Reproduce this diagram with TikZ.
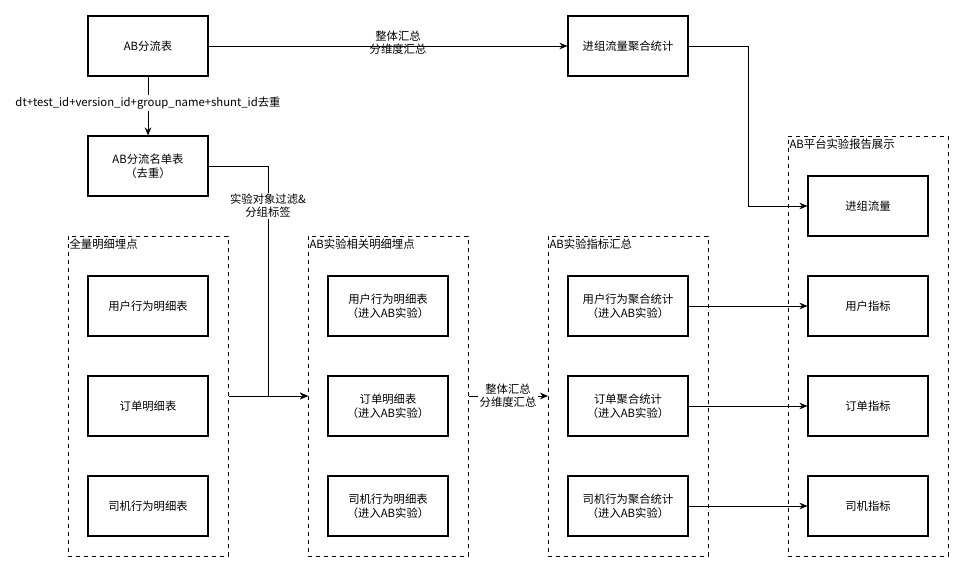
\documentclass[tikz,border=0pt]{standalone}
\usepackage{fontspec}
\setmainfont{Noto Sans CJK SC}
\usetikzlibrary{arrows.meta}
\begin{document}
\begin{tikzpicture}[x=0.75pt,y=-0.75pt,
  box/.style={draw,line width=0.8pt,minimum width=90pt,minimum height=45pt,align=center,font=\fontsize{8.5pt}{10.5pt}\selectfont},
  grp/.style={draw,dashed,line width=0.6pt,minimum width=120pt,anchor=north west},
  gl/.style={anchor=north west,inner sep=1pt,font=\fontsize{8.5pt}{10pt}\selectfont},
  lab/.style={align=center,fill=white,inner sep=1pt,font=\fontsize{8.5pt}{10pt}\selectfont},
  arr/.style={-{Stealth[length=6pt,width=5pt]},line width=0.7pt}]
\useasboundingbox (0,0) rectangle (965,573);
% groups
\node[grp,minimum height=240pt] (g1) at (68,236) {};
\node[gl] at (68,237) {全量明细埋点};
\node[grp,minimum height=240pt] (g2) at (308,236) {};
\node[gl] at (308,237) {AB实验相关明细埋点};
\node[grp,minimum height=240pt] (g3) at (548,236) {};
\node[gl] at (548,237) {AB实验指标汇总};
\node[grp,minimum height=315pt] (g4) at (788,136) {};
\node[gl] at (788,137) {AB平台实验报告展示};
% boxes
\node[box] (ab) at (148,46) {AB分流表};
\node[box] (jz) at (628,46) {进组流量聚合统计};
\node[box] (md) at (148,166) {AB分流名单表\\（去重）};
\node[box] (a1) at (148,306) {用户行为明细表};
\node[box] (a2) at (148,406) {订单明细表};
\node[box] (a3) at (148,506) {司机行为明细表};
\node[box] (b1) at (388,306) {用户行为明细表\\（进入AB实验）};
\node[box] (b2) at (388,406) {订单明细表\\（进入AB实验）};
\node[box] (b3) at (388,506) {司机行为明细表\\（进入AB实验）};
\node[box] (c1) at (628,306) {用户行为聚合统计\\（进入AB实验）};
\node[box] (c2) at (628,406) {订单聚合统计\\（进入AB实验）};
\node[box] (c3) at (628,506) {司机行为聚合统计\\（进入AB实验）};
\node[box] (d0) at (868,206) {进组流量};
\node[box] (d1) at (868,306) {用户指标};
\node[box] (d2) at (868,406) {订单指标};
\node[box] (d3) at (868,506) {司机指标};
% connectors
\draw[arr] (ab) -- (jz);
\node[lab,fill=none] at (398,43) {整体汇总\\分维度汇总};
\draw[arr] (ab) -- (md);
\node[lab] at (148,103) {dt+test\_id+version\_id+group\_name+shunt\_id去重};
\coordinate (k1) at (268,166);
\coordinate (k2) at (268,396);
\draw[arr] (md.east) -- (k1) -- (k2) -- (g2.west |- k2);
\node[lab] at (268,206) {实验对象过滤\&\\分组标签};
\draw[arr] (g1.east |- k2) -- (g2.west |- k2);
\draw[arr] (g2.east |- k2) -- (g3.west |- k2);
\node[lab] at (508,396) {整体汇总\\分维度汇总};
\coordinate (k3) at (748,46);
\coordinate (k4) at (748,206);
\draw[arr] (jz.east) -- (k3) -- (k4) -- (d0.west);
\draw[arr] (c1) -- (d1);
\draw[arr] (c2) -- (d2);
\draw[arr] (c3) -- (d3);
\end{tikzpicture}
\end{document}
